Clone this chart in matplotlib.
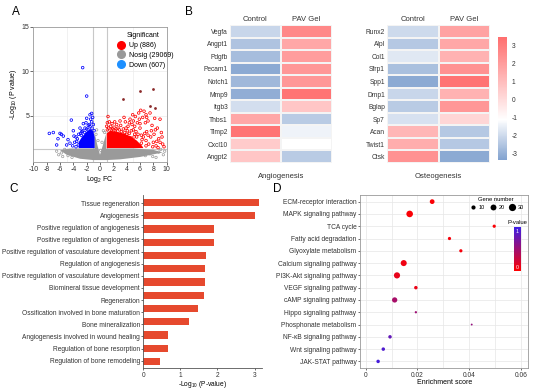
import numpy as np
import matplotlib
matplotlib.use("Agg")
import matplotlib.pyplot as plt
from matplotlib.colors import LinearSegmentedColormap, Normalize
from matplotlib.lines import Line2D

plt.rcParams['font.family'] = ['Liberation Sans', 'DejaVu Sans']
plt.rcParams['mathtext.default'] = 'regular'
plt.rcParams['axes.linewidth'] = 0.6
plt.rcParams['axes.unicode_minus'] = False

# ---------------- A: volcano (Log2 FC vs -log10 P) ----------------
legend_labels = ['Up (886)', 'Nosig (29069)', 'Down (607)']

# dense cores drawn as outlines
nosig_core_x = [-6.0, -4.5, -0.8, -0.8, -0.4, 0.0, 0.4, 0.9, 0.9, 5.0, 8.0, 9.4, 6.0, 3.0, 1.0, -1.0, -3.0, -5.0]
nosig_core_y = [1.1, 1.3, 1.3, 3.0, 1.7, 0.6, 1.6, 2.9, 1.3, 1.3, 1.15, 0.85, 0.35, 0.08, 0.0, 0.0, 0.15, 0.6]
down_core_x = [-3.2, -3.2, -2.7, -2.0, -1.4, -1.0, -0.8, -0.8]
down_core_y = [1.35, 2.0, 2.6, 3.2, 3.5, 3.2, 2.6, 1.35]
up_core_x = [1.0, 1.0, 1.5, 2.5, 3.5, 4.5, 5.5, 6.3, 6.5]
up_core_y = [1.35, 3.0, 3.3, 3.2, 3.0, 2.7, 2.2, 1.6, 1.35]

nosig_x = [-6.5, -5.8, -5.3, -4.8, -6.2, -5.0, 8.8, 9.5, 7.5, 9.1, 6.8, -0.3, 0.3, -0.6, 0.7, 0.1,
           -5.6, -4.2, 7.9, 9.7, 8.4, -0.5, 0.5]
nosig_y = [1.0, 0.8, 1.2, 0.5, 0.6, 1.0, 0.9, 0.6, 0.7, 1.2, 0.5, 2.2, 2.0, 2.9, 3.1, 1.1,
           0.4, 0.3, 0.4, 1.0, 0.3, 3.4, 3.3]

down_x = [-7.0, -5.8, -5.5, -4.3, -4.0, -3.9, -6.5, -5.0, -4.5, -3.5, -3.25, -3.0, -2.5, -2.0,
          -1.5, -1.25, -1.75, -2.25, -2.75, -1.25, -1.5, -3.6, -6.3, -4.8, -7.6, -6.0, -2.6, -2.0,
          -3.4, -3.2, -2.9, -2.6, -2.3, -2.0, -1.8, -1.6, -1.2, -1.0, -0.9, -2.1, -1.4, -3.8,
          -4.1, -3.6, -2.8, -1.1]
down_y = [3.1, 2.9, 2.7, 4.5, 3.3, 2.7, 1.7, 1.7, 1.9, 2.1, 1.7, 3.6, 4.1, 4.7,
          5.1, 5.25, 3.9, 3.6, 3.2, 4.3, 3.75, 2.6, 2.4, 2.3, 3.0, 3.0, 10.4, 7.2,
          2.4, 2.9, 3.0, 3.3, 3.1, 3.5, 3.4, 4.0, 3.6, 4.0, 3.3, 4.2, 4.6, 2.0,
          1.6, 1.5, 2.8, 4.8]

up_x = [1.2, 1.4, 1.6, 1.9, 2.3, 2.7, 3.1, 3.5, 3.8, 4.2, 4.5, 4.8, 5.0, 5.3, 5.6, 5.8, 6.1, 6.4,
        6.6, 6.9, 7.2, 7.5, 7.8, 8.2, 8.6, 9.0, 8.8, 9.4, 8.0, 7.6, 7.0, 6.5, 6.0, 5.5, 5.2, 4.6,
        4.0, 3.3, 2.6, 2.0, 1.5, 1.1, 7.3, 8.4, 6.2, 9.2, 3.6, 2.2, 4.9, 5.9,
        1.3, 1.7, 2.1, 2.4, 2.9, 3.2, 3.7, 4.1, 4.4, 4.7, 5.1, 5.4, 5.7, 6.3, 6.7, 6.9, 7.2,
        7.7, 8.1, 8.5, 9.0, 9.3, 6.0, 6.8, 5.2, 4.4, 3.0, 2.5, 1.8, 7.0, 8.3, 6.2, 5.0, 3.9,
        1.1, 1.0, 9.6, 8.7, 7.9, 6.9]
up_y = [4.9, 4.3, 3.8, 3.5, 3.3, 3.6, 3.9, 3.5, 4.3, 3.8, 4.6, 4.0, 3.4, 4.9, 4.2, 5.3, 5.6, 4.8,
        5.5, 5.1, 4.4, 5.3, 3.9, 4.7, 3.6, 4.6, 2.4, 1.8, 2.0, 2.6, 3.2, 2.6, 3.6, 2.6, 2.9, 2.5,
        2.9, 2.7, 2.9, 2.6, 2.9, 3.4, 1.8, 1.6, 1.9, 3.1, 4.8, 4.3, 5.1, 4.6,
        3.6, 3.4, 3.7, 3.5, 3.4, 3.2, 3.1, 3.3, 3.0, 3.3, 2.6, 3.2, 2.9, 2.3, 3.0, 2.2, 2.8,
        3.3, 2.9, 2.1, 2.0, 2.6, 4.1, 4.2, 3.8, 4.2, 4.4, 4.0, 4.1, 4.8, 3.4, 2.8, 4.4, 3.6,
        4.2, 3.8, 1.5, 1.4, 1.5, 1.6]
top_x = [3.45, 6.0, 7.98, 7.48, 8.23]
top_y = [6.86, 7.76, 7.95, 6.1, 5.9]

# ---------------- B: heatmaps ----------------
groups = ['Control', 'PAV Gel']
angio_genes = ['Vegfa', 'Angpt1', 'Pdgfb', 'Pecam1', 'Notch1', 'Mmp9', 'Itgb3',
               'Thbs1', 'Timp2', 'Cxcl10', 'Angpt2']
angio_ctrl = [-2.08, -2.53, -2.7, -3.15, -2.8, -3.06, -1.9, 1.7, 3.3, 0.55, 0.7]
angio_pav = [2.67, 1.7, 2.0, 2.2, 2.2, 3.3, 0.7, -2.35, -1.37, -1.1, -2.35]
osteo_genes = ['Runx2', 'Alpl', 'Col1', 'Sfrp1', 'Spp1', 'Dmp1', 'Bglap', 'Sp7',
               'Acan', 'Twist1', 'Ctsk']
osteo_ctrl = [-2.0, -2.44, -1.64, -2.62, -3.15, -2.08, -2.35, -1.81, 1.2, 1.5, 2.35]
osteo_pav = [1.85, 1.7, 1.35, 2.35, 3.3, 1.35, 2.2, 0.2, -2.44, -2.44, -3.15]
heat_ticks = [3, 2, 1, 0, -1, -2, -3]

# ---------------- C: GO bars ----------------
go_terms = ['Tissue regeneration', 'Angiogenesis', 'Positive regulation of angiogenesis',
            'Positive regulation of angiogenesis', 'Positive regulation of vasculature development',
            'Regulation of angiogenesis', 'Positive regulation of vasculature development',
            'Biomineral tissue development', 'Regeneration',
            'Ossification involved in bone maturation', 'Bone mineralization',
            'Angiogenesis involved in wound healing', 'Regulation of bone resorption',
            'Regulation of bone remodeling']
go_values = [3.12, 3.0, 1.9, 1.9, 1.7, 1.65, 1.65, 1.63, 1.47, 1.23, 0.67, 0.67, 0.46]

# ---------------- D: KEGG bubbles ----------------
kegg_terms = ['ECM-receptor interaction', 'MAPK signaling pathway', 'TCA cycle',
              'Fatty acid degradation', 'Glyoxylate metabolism', 'Calcium signaling pathway',
              'PI3K-Akt signaling pathway', 'VEGF signaling pathway', 'cAMP signaling pathway',
              'Hippo signaling pathway', 'Phosphonate metabolism', 'NF-κB signaling pathway',
              'Wnt signaling pathway', 'JAK-STAT pathway']
kegg_score = [0.0257, 0.017, 0.0497, 0.0324, 0.0368, 0.0147, 0.0121, 0.0194, 0.0112,
              0.0194, 0.041, 0.0094, 0.0068, 0.0048]
kegg_genes = [13, 25, 6, 6, 6, 21, 22, 7, 16, 3, 2, 7, 7, 7]
kegg_p = [0.02, 0.03, 0.02, 0.05, 0.05, 0.08, 0.12, 0.1, 0.45, 0.5, 0.55, 0.8, 0.9, 0.95]
gene_legend = [10, 20, 30]

fig = plt.figure(figsize=(5.4, 3.9), dpi=100)

# ===== A =====
axA = fig.add_axes([0.0617, 0.585, 0.247, 0.3464])
axA.fill(nosig_core_x, nosig_core_y, color='#9a9a9a', lw=0, zorder=2)
axA.fill(down_core_x, down_core_y, color='#0000ff', lw=0, zorder=3)
axA.fill(up_core_x, up_core_y, color='#ff0000', lw=0, zorder=3)
axA.scatter(nosig_x, nosig_y, s=3, facecolors='none', edgecolors='#9a9a9a', lw=0.5, zorder=2)
axA.scatter(down_x, down_y, s=3.5, facecolors='none', edgecolors='#0000ff', lw=0.55, zorder=3)
axA.scatter(up_x, up_y, s=3.5, facecolors='none', edgecolors='#ff0000', lw=0.55, zorder=3)
axA.scatter(top_x, top_y, s=4, color='#8b2a2a', lw=0, zorder=4)
for v in (-1, 1):
    axA.axvline(v, color='#c8c8c8', lw=0.8, zorder=1)
axA.axhline(1.3, color='#c8c8c8', lw=0.8, zorder=1)
for v in (-5, 5):
    axA.axvline(v, color='#ececec', lw=0.5, zorder=0)
for v in (5, 10):
    axA.axhline(v, color='#ececec', lw=0.5, zorder=0)
axA.set_xlim(-10, 10)
axA.set_ylim(-0.2, 15)
axA.set_xticks(range(-10, 11, 2))
axA.set_yticks([5, 10, 15])
axA.tick_params(labelsize=5, length=2, width=0.5, pad=1, colors='#333333')
for s in axA.spines.values():
    s.set_color('#999999')
axA.set_xlabel('Log$_2$ FC', fontsize=5, labelpad=1)
axA.set_ylabel('-Log$_{10}$ (P value)', fontsize=5, labelpad=2)
handles = [Line2D([], [], ls='none', marker='o', ms=5.5, color=c) for c in ('#ff0000', '#999999', '#1e90ff')]
axA.legend(handles, legend_labels, title='Significant', loc='upper left', bbox_to_anchor=(0.56, 1.0),
           frameon=False, fontsize=5, title_fontsize=5, handletextpad=0.2, labelspacing=0.4,
           borderpad=0.3)

# ===== B =====
heat_cmap = LinearSegmentedColormap.from_list(
    'heat', [(0.0, '#82a2cf'), (0.328, '#ffffff'), (1.0, '#ff6e6e')])
heat_norm = Normalize(vmin=-3.35, vmax=3.5)


def heatmap(ax, genes, ctrl, pav, title):
    vals = np.column_stack([ctrl, pav])
    mesh = ax.pcolormesh(vals, cmap=heat_cmap, norm=heat_norm, edgecolors='#f4f4f4', lw=0.3)
    ax.set_xlim(0, 2)
    ax.set_ylim(len(genes), 0)
    ax.set_xticks([0.5, 1.5])
    ax.set_xticklabels(groups, fontsize=5.5)
    ax.xaxis.tick_top()
    ax.set_yticks(np.arange(len(genes)) + 0.5)
    ax.set_yticklabels(genes, fontsize=4.8)
    ax.tick_params(length=0, pad=1.5, colors='#333333')
    for s in ax.spines.values():
        s.set_visible(False)
    ax.text(0.5, -0.07, title, transform=ax.transAxes, ha='center', va='top', fontsize=5.5,
            color='#333333')
    return mesh


axB1 = fig.add_axes([0.4259, 0.582, 0.1889, 0.3538])
heatmap(axB1, angio_genes, angio_ctrl, angio_pav, 'Angiogenesis')
axB2 = fig.add_axes([0.7167, 0.582, 0.1907, 0.3538])
mesh = heatmap(axB2, osteo_genes, osteo_ctrl, osteo_pav, 'Osteogenesis')
caxB = fig.add_axes([0.9222, 0.5897, 0.0167, 0.3154])
cbB = fig.colorbar(mesh, cax=caxB)
cbB.set_ticks(heat_ticks)
cbB.outline.set_visible(False)
caxB.tick_params(labelsize=4.8, length=1.5, width=0.4, color='white', pad=2, labelcolor='#333333')

# ===== C =====
axC = fig.add_axes([0.2654, 0.0563, 0.2198, 0.4437])
axC.barh(np.arange(len(go_values)), go_values, height=0.55, color='#e6492e')
axC.set_ylim(12.5, -0.57)
axC.set_xlim(0, 3.2)
axC.set_yticks(np.linspace(0.04, 11.94, len(go_terms)))
axC.set_yticklabels(go_terms, fontsize=4.3)
axC.set_xticks([0, 1, 2, 3])
axC.tick_params(labelsize=4.8, length=1.5, width=0.5, pad=1, colors='#333333')
axC.spines['top'].set_visible(False)
axC.spines['right'].set_visible(False)
axC.spines['left'].set_color('#555555')
axC.spines['bottom'].set_color('#555555')
axC.set_xlabel('-Log$_{10}$ (P-value)', fontsize=4.8, labelpad=0.5)

# ===== D =====
pv_cmap = LinearSegmentedColormap.from_list('pv', ['#ff0000', '#3c1ee6'])
axD = fig.add_axes([0.6667, 0.0563, 0.3117, 0.4437])
rows = np.arange(len(kegg_terms))
sc = axD.scatter(kegg_score, rows, s=np.array(kegg_genes) * 0.9, c=kegg_p, cmap=pv_cmap,
                 vmin=0, vmax=1, lw=0, zorder=3)
axD.set_ylim(13.54, -0.54)
axD.set_xlim(-0.0022, 0.0629)
axD.set_yticks(rows)
axD.set_yticklabels(kegg_terms, fontsize=4.5)
axD.set_xticks([0, 0.02, 0.04, 0.06])
axD.set_xticklabels(['0', '0.02', '0.04', '0.06'])
axD.set_xticks([0.01, 0.03, 0.05], minor=True)
axD.grid(True, which='both', color='#e6e6e6', lw=0.5, zorder=0)
axD.tick_params(labelsize=4.8, length=1.5, width=0.5, pad=1, colors='#333333')
axD.tick_params(which='minor', length=0)
for s in axD.spines.values():
    s.set_color('#999999')
axD.set_xlabel('Enrichment score', fontsize=5, labelpad=0.5)
g_handles = [axD.scatter([], [], s=g * 0.9, color='black', lw=0) for g in gene_legend]
axD.legend(g_handles, [str(g) for g in gene_legend], title='Gene number', ncol=3,
           loc='upper right', bbox_to_anchor=(1.0, 1.01), frameon=False, fontsize=4,
           title_fontsize=4.2, handletextpad=0.05, columnspacing=0.4, borderpad=0.2)
caxD = fig.add_axes([0.9519, 0.3051, 0.013, 0.1128])
cbD = fig.colorbar(sc, cax=caxD)
cbD.set_ticks([])
cbD.outline.set_visible(False)
caxD.text(0.5, 0.95, '1', color='white', ha='center', va='top', fontsize=3.8, transform=caxD.transAxes)
caxD.text(0.5, 0.03, '0', color='white', ha='center', va='bottom', fontsize=3.8, transform=caxD.transAxes)
caxD.set_title('P-value', fontsize=4.2, pad=2)

# panel letters
for letter, x, y in [('A', 0.022, 0.955), ('B', 0.342, 0.955), ('C', 0.017, 0.5), ('D', 0.505, 0.5)]:
    fig.text(x, y, letter, fontsize=8.5, ha='left', va='bottom')

fig.savefig('out.png', dpi=100)
